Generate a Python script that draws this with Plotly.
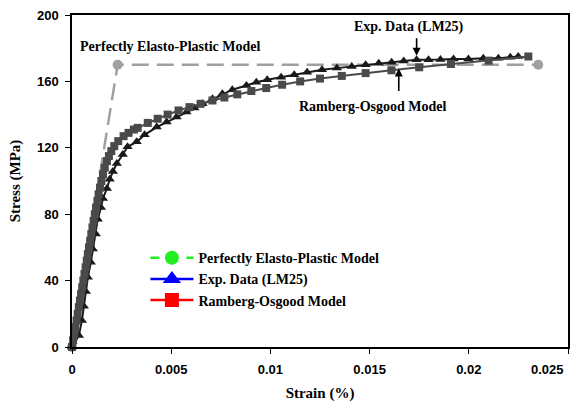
import plotly.graph_objects as go

# ---------------- data ----------------
# Perfectly elasto-plastic model
epp_strain = [0.0, 0.0023, 0.0235]
epp_stress = [0.0, 170.0, 170.0]

# Experimental data (LM25)
exp_strain = [0.0, 0.00035, 0.0005, 0.0006, 0.0007, 0.0008, 0.00095, 0.00105, 0.0012, 0.0013,
              0.00146, 0.00156, 0.00176, 0.0019, 0.00206, 0.00226, 0.00256, 0.0028, 0.00326,
              0.00366, 0.00427, 0.00477, 0.00527, 0.00577, 0.00617, 0.00658, 0.00708, 0.00758,
              0.00808, 0.00879, 0.00929, 0.00984, 0.01054, 0.0112, 0.01185, 0.0126, 0.01335,
              0.0141, 0.0148, 0.01546, 0.01611, 0.01672, 0.01737, 0.01797, 0.01857, 0.01923,
              0.01998, 0.02073, 0.02149, 0.02209, 0.02249]
exp_stress = [0.0, 7.0, 16.0, 24.5, 33.4, 42.0, 51.0, 59.0, 68.0, 77.0,
              84.0, 89.5, 95.5, 101.0, 105.7, 110.5, 116.0, 120.6, 123.6,
              127.8, 132.5, 135.5, 138.5, 141.5, 144.0, 146.5, 149.5, 152.5,
              155.0, 157.5, 159.5, 161.0, 162.5, 164.0, 165.5, 167.0, 168.0,
              169.0, 170.0, 171.0, 171.5, 172.3, 173.0, 173.0, 173.2, 173.5,
              173.5, 174.0, 174.0, 174.5, 175.0]

# Ramberg-Osgood model
ro_strain = [0.0, 0.000057, 0.000114, 0.000171, 0.000229, 0.000286, 0.000343, 0.0004, 0.000457,
             0.000514, 0.000571, 0.000629, 0.000686, 0.000743, 0.0008, 0.000857, 0.000915,
             0.000973, 0.00103, 0.00109, 0.00115, 0.00121, 0.00128, 0.00134, 0.00141, 0.00148,
             0.00156, 0.00165, 0.00176, 0.00186, 0.00198, 0.00213, 0.00233, 0.0026, 0.00285,
             0.00312, 0.00331, 0.00382, 0.00432, 0.00482, 0.00537, 0.00592, 0.00648, 0.00708,
             0.00768, 0.00833, 0.00904, 0.00979, 0.01059, 0.0115, 0.0125, 0.0136, 0.0148,
             0.0161, 0.0175, 0.0191, 0.0210, 0.0230]
ro_stress = [0, 4, 8, 12, 16, 20, 24, 28, 32,
             36, 40, 44, 48, 52, 56, 60, 64,
             68, 72, 76, 80, 84, 88, 92, 96, 100,
             104, 108, 112, 115, 118, 121, 124, 127, 129,
             131, 132, 135, 137.5, 140, 142.5, 144.5, 146.5, 148.5,
             150.3, 152.2, 154.2, 156, 158, 160, 161.7, 163.3, 165,
             166.7, 168.5, 170.5, 172.5, 175]

x_ticks = [0, 0.005, 0.01, 0.015, 0.02, 0.025]
x_tick_text = ["0", "0.005", "0.01", "0.015", "0.02", ""]
y_ticks = [0, 40, 80, 120, 160, 200]

names = ["Perfectly Elasto-Plastic Model", "Exp. Data (LM25)", "Ramberg-Osgood Model"]

SERIF = "Liberation Serif, Times New Roman, serif"
SANS = "Liberation Sans, Arial, sans-serif"

fig = go.Figure()

# plotted traces (greyscale, hidden from legend)
fig.add_trace(go.Scatter(x=epp_strain, y=epp_stress, mode="lines+markers",
                         line=dict(color="#a0a0a0", width=2.5, dash="17px,8px"),
                         marker=dict(symbol="circle", size=10, color="#a0a0a0"),
                         showlegend=False, cliponaxis=False))
fig.add_trace(go.Scatter(x=exp_strain, y=exp_stress, mode="lines+markers",
                         line=dict(color="#1a1a1a", width=2),
                         marker=dict(symbol="triangle-up", size=9, color="#1a1a1a"),
                         showlegend=False, cliponaxis=False))
fig.add_trace(go.Scatter(x=ro_strain, y=ro_stress, mode="lines+markers",
                         line=dict(color="#4a4a4a", width=2),
                         marker=dict(symbol="square", size=8, color="#4a4a4a"),
                         showlegend=False, cliponaxis=False))

# legend entries (coloured as in the original legend)
fig.add_trace(go.Scatter(x=[None], y=[None], mode="lines+markers", name=names[0],
                         line=dict(color="#22ee22", width=2.5, dash="dash"),
                         marker=dict(symbol="circle", size=14, color="#22ee22")))
fig.add_trace(go.Scatter(x=[None], y=[None], mode="lines+markers", name=names[1],
                         line=dict(color="#0000ff", width=2.5),
                         marker=dict(symbol="triangle-up", size=16, color="#0000ff")))
fig.add_trace(go.Scatter(x=[None], y=[None], mode="lines+markers", name=names[2],
                         line=dict(color="#ff0000", width=2.5),
                         marker=dict(symbol="square", size=14, color="#ff0000")))

afont = dict(family=SERIF, size=14, color="black", weight="bold")
annotations = [
    dict(text=names[0], xref="paper", yref="paper", x=0.012, y=0.905,
         xanchor="left", yanchor="middle", showarrow=False, font=afont),
    dict(text=names[1], xref="paper", yref="paper", x=0.68, y=0.965,
         xanchor="center", yanchor="middle", showarrow=False, font=afont),
    dict(text=names[2], xref="paper", yref="paper", x=0.605, y=0.723,
         xanchor="center", yanchor="middle", showarrow=False, font=afont),
    dict(text="", x=0.01737, y=175.5, xref="x", yref="y", showarrow=True,
         ax=0, ay=-19, arrowhead=2, arrowsize=1, arrowwidth=1.6, arrowcolor="black"),
    dict(text="", x=0.01647, y=167.8, xref="x", yref="y", showarrow=True,
         ax=0, ay=24, arrowhead=2, arrowsize=1, arrowwidth=1.6, arrowcolor="black"),
    dict(text="0.025", xref="paper", yref="paper", x=1, y=0, xanchor="right",
         yanchor="top", xshift=-2, yshift=-13, showarrow=False,
         font=dict(family=SANS, size=13, color="black", weight="bold")),
]

fig.update_layout(
    width=578, height=409,
    margin=dict(l=72, r=8, t=12, b=62),
    paper_bgcolor="white", plot_bgcolor="white",
    showlegend=True,
    hovermode=False,
    legend=dict(x=0.148, y=0.316, xanchor="left", yanchor="top",
                bgcolor="rgba(0,0,0,0)", borderwidth=0, itemwidth=43,
                font=dict(family=SERIF, size=14, color="black", weight="bold"),
                tracegroupgap=0),
    annotations=annotations,
)

fig.update_xaxes(range=[0, 0.025], tickvals=x_ticks, ticktext=x_tick_text,
                 showgrid=False, zeroline=False, showline=True, linecolor="black",
                 linewidth=1.5, mirror=True, ticks="outside", ticklen=5,
                 tickcolor="black", ticklabelstandoff=5,
                 tickfont=dict(family=SANS, size=13, color="black", weight="bold"),
                 title=dict(text="Strain (%)", standoff=11,
                            font=dict(family=SERIF, size=15, color="black", weight="bold")))
fig.update_yaxes(range=[0, 200], tickvals=y_ticks, ticklabeloverflow="allow",
                 showgrid=False, zeroline=False, showline=True, linecolor="black",
                 linewidth=1.5, mirror=True, ticks="outside", ticklen=5,
                 tickcolor="black", ticklabelstandoff=4,
                 tickfont=dict(family=SANS, size=13, color="black", weight="bold"),
                 title=dict(text="Stress (MPa)", standoff=13,
                            font=dict(family=SERIF, size=15, color="black", weight="bold")))

# remove the browser's default 8px body margin so the figure sits at the page corner
fig.write_html("out.html", config={"displayModeBar": False},
               post_script="document.body.style.margin='0px';")
